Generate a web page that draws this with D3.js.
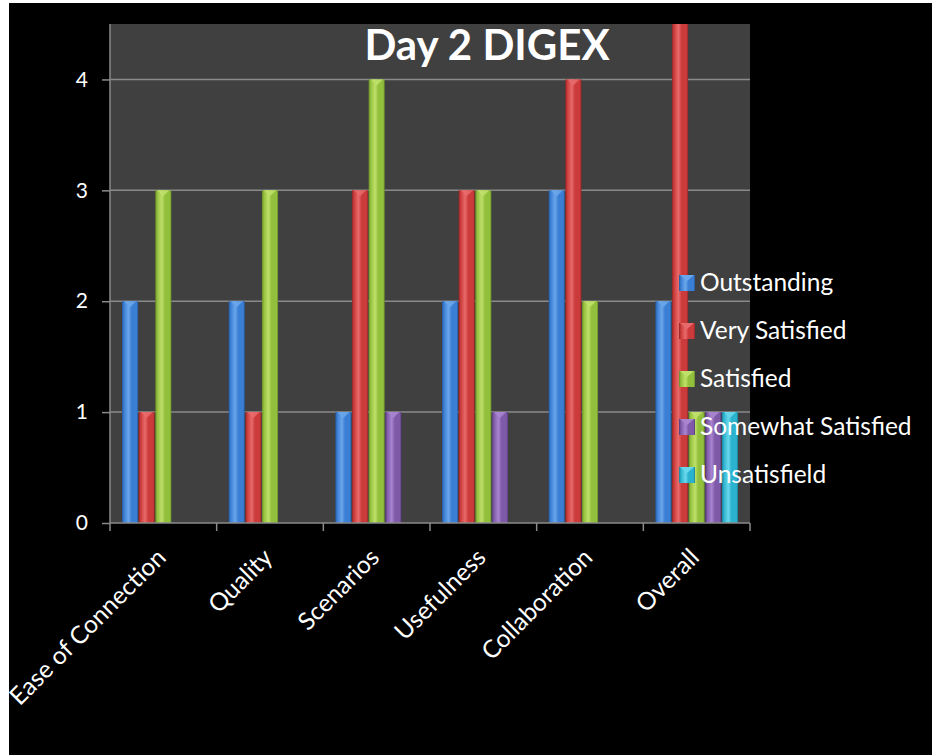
<!DOCTYPE html>
<html><head><meta charset="utf-8">
<script src="https://cdn.jsdelivr.net/npm/d3@7"></script>
<style>html,body{margin:0;padding:0;background:#fff;}svg{display:block;}</style>
</head><body>
<script>
const categories = ["Ease of Connection","Quality","Scenarios","Usefulness","Collaboration","Overall"];
const seriesNames = ["Outstanding","Very Satisfied","Satisfied","Somewhat Satisfied","Unsatisfield"];
const outstanding = [2,2,1,2,3,2];
const verySatisfied = [1,1,3,3,4,5];
const satisfied = [3,3,4,3,2,1];
const somewhatSatisfied = [0,0,1,1,0,1];
const unsatisfield = [0,0,0,0,0,1];
const yTicks = [0,1,2,3,4];
const titleText = "Day 2 DIGEX";

const seriesValues = [outstanding, verySatisfied, satisfied, somewhatSatisfied, unsatisfield];
const colors = [
  {base:"#3b7fd4", light:"#6aa6ea", dark:"#25589a"},
  {base:"#cc3b3b", light:"#e86a6a", dark:"#8e2424"},
  {base:"#93c03c", light:"#bfe06a", dark:"#65872a"},
  {base:"#7e5aa8", light:"#a985d0", dark:"#553a78"},
  {base:"#2bb2cf", light:"#6ad8ec", dark:"#1a7d93"}
];
const FONT = "Lato, 'Open Sans', sans-serif";

const W = 932, H = 755;
const svg = d3.select("body").append("svg").attr("width", W).attr("height", H);
svg.append("rect").attr("x",9).attr("y",3).attr("width",W-9).attr("height",H-3).attr("fill","#000");

const plot = {left:110, right:750, top:24, bottom:523};
const x0 = d3.scaleBand().domain(categories).range([plot.left, plot.right]).padding(0);
const x1 = d3.scaleBand().domain(seriesNames).range([12, x0.bandwidth()-12]).paddingInner(0.03);
const y = d3.scaleLinear().domain([0,4.5]).range([plot.bottom, plot.top]);

const defs = svg.append("defs");
colors.forEach((c,i)=>{
  const g = defs.append("linearGradient").attr("id","g"+i).attr("x1","0").attr("x2","1").attr("y1","0").attr("y2","0");
  [[0,c.dark],[0.12,c.base],[0.4,c.light],[0.6,c.base],[0.9,c.base],[1,c.dark]].forEach(s=>
    g.append("stop").attr("offset",s[0]).attr("stop-color",s[1]));
});
defs.append("clipPath").attr("id","clip").append("rect")
  .attr("x",plot.left).attr("y",plot.top).attr("width",plot.right-plot.left).attr("height",plot.bottom-plot.top);

svg.append("rect").attr("x",plot.left).attr("y",plot.top).attr("width",plot.right-plot.left)
  .attr("height",plot.bottom-plot.top).attr("fill","#404040");

// gridlines
svg.append("g").selectAll("line").data(yTicks.filter(d=>d>0)).join("line")
  .attr("x1",plot.left).attr("x2",plot.right).attr("y1",d=>y(d)).attr("y2",d=>y(d))
  .attr("stroke","#8a8a8a").attr("stroke-width",1.5);

// title
svg.append("text").attr("x",487).attr("y",60).attr("text-anchor","middle")
  .attr("font-family",FONT).attr("font-weight","bold").attr("font-size",42)
  .attr("fill","#fff").text(titleText);

// bars
const barsG = svg.append("g").attr("clip-path","url(#clip)");
const flat = [];
categories.forEach((cat,ci)=>seriesNames.forEach((s,si)=>{
  flat.push({cat, s, si, v: seriesValues[si][ci]});
}));
const bars = barsG.selectAll("g.bar").data(flat.filter(d=>d.v>0)).join("g").attr("class","bar");
bars.append("rect")
  .attr("x",d=>x0(d.cat)+x1(d.s)).attr("y",d=>y(d.v))
  .attr("width",x1.bandwidth()).attr("height",d=>y(0)-y(d.v))
  .attr("fill",d=>`url(#g${d.si})`);
bars.append("path")
  .attr("d",d=>{const bx=x0(d.cat)+x1(d.s), bw=x1.bandwidth(), by=y(d.v);
    return `M${bx+2},${by}L${bx+bw-2},${by}L${bx+bw/2},${by+6}Z`;})
  .attr("fill",d=>colors[d.si].light).attr("opacity",0.9);

// y axis
const yAxisG = svg.append("g").attr("transform",`translate(${plot.left},0)`)
  .call(d3.axisLeft(y).tickValues(yTicks).tickSize(8).tickPadding(14).tickFormat(d3.format("d")));
yAxisG.select(".domain").attr("stroke","#8a8a8a").attr("stroke-width",1.5).attr("d",`M0,${plot.top}V${plot.bottom}`);
yAxisG.selectAll(".tick line").attr("stroke","#8a8a8a").attr("stroke-width",1.5);
yAxisG.selectAll(".tick text").attr("fill","#fff").attr("font-size",21)
  .attr("font-family",FONT);

// x axis
const xAxisG = svg.append("g").attr("transform",`translate(0,${plot.bottom})`);
xAxisG.append("line").attr("x1",plot.left).attr("x2",plot.right).attr("stroke","#8a8a8a").attr("stroke-width",1.5);
const bounds = categories.map(c=>x0(c)).concat([plot.right]);
xAxisG.selectAll("line.tk").data(bounds).join("line").attr("class","tk")
  .attr("x1",d=>d).attr("x2",d=>d).attr("y1",0).attr("y2",8).attr("stroke","#8a8a8a").attr("stroke-width",1.5);
xAxisG.selectAll("text").data(categories).join("text")
  .attr("transform",d=>`translate(${x0(d)+x0.bandwidth()/2+4},${36}) rotate(-45)`)
  .attr("text-anchor","end").attr("fill","#fff").attr("font-size",24.5)
  .attr("font-family",FONT).text(d=>d);

// legend
const leg = svg.append("g");
const legItems = leg.selectAll("g").data(seriesNames).join("g")
  .attr("transform",(d,i)=>`translate(679,${283+i*48})`);
legItems.append("rect").attr("x",0).attr("y",-8).attr("width",16).attr("height",16)
  .attr("fill",(d,i)=>`url(#g${i})`);
legItems.append("path").attr("d","M1,-8L15,-8L8,-2Z").attr("fill",(d,i)=>colors[i].light);
legItems.append("text").attr("x",21).attr("y",8).attr("fill","#fff").attr("font-size",24.5)
  .attr("font-family",FONT).text(d=>d);
</script>
</body></html>
